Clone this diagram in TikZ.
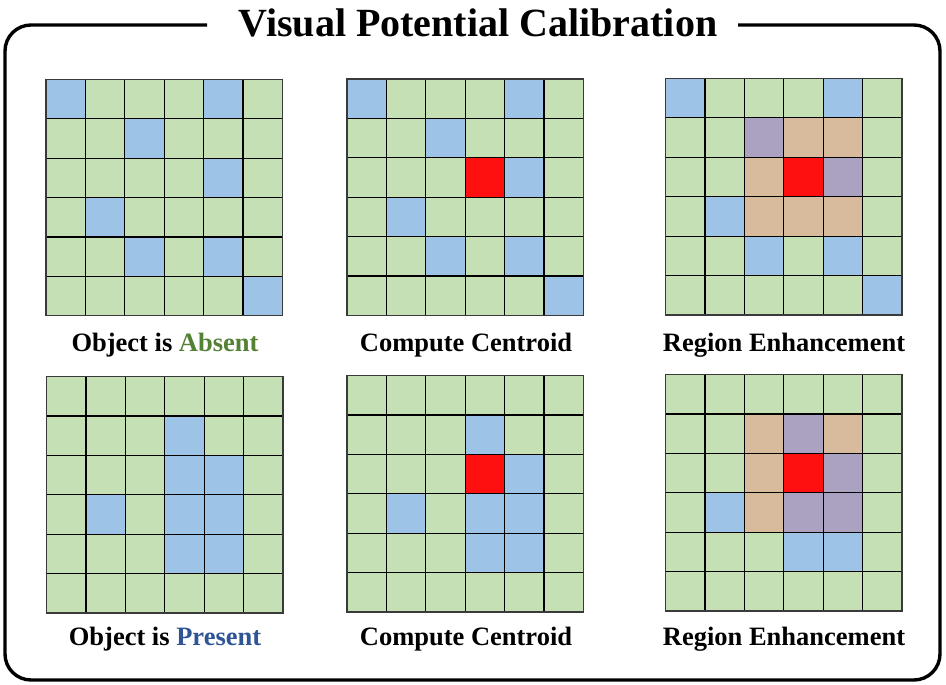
\documentclass[tikz,border=0pt]{standalone}
\usepackage{fontspec}
\setmainfont{Liberation Serif}
\definecolor{cgreen}{HTML}{C5E0B4}
\definecolor{cblue}{HTML}{9DC3E6}
\definecolor{cred}{HTML}{FF1010}
\definecolor{cpurple}{HTML}{ABA1C0}
\definecolor{ctan}{HTML}{D8BA9C}
\definecolor{tgreen}{HTML}{548235}
\definecolor{tblue}{HTML}{2F5597}
\definecolor{borderc}{HTML}{3A3A3A}
\tikzset{
  cellbox/.style={draw=none,minimum size=39.4pt,inner sep=0pt,outer sep=0pt,anchor=north west},
  bluecell/.style={fill=cblue},
  redcell/.style={fill=cred},
  purplecell/.style={fill=cpurple},
  tancell/.style={fill=ctan},
  gridline/.style={draw=black,line width=1.2pt},
  gridborder/.style={draw=borderc,line width=1.5pt},
  framepath/.style={draw=black,line width=3.4pt,rounded corners=26pt},
  caption/.style={anchor=base,inner sep=0pt,font=\fontsize{26.5}{30}\selectfont\bfseries},
  titletext/.style={anchor=base,inner sep=0pt,font=\fontsize{40}{46}\selectfont\bfseries},
}
\newcommand{\cellgrid}[4]{%
  \foreach \r in {0,...,5}{\foreach \c in {0,...,5}{
    \node[cellbox,fill=cgreen] (#1-\r-\c) at ({#2+\c*39.4},{#3+\r*39.4}) {};}}
  \foreach \r/\c/\col in {#4}{
    \node[cellbox,\col] (#1-s-\r-\c) at ({#2+\c*39.4},{#3+\r*39.4}) {};}
  \foreach \i in {1,...,5}{
    \draw[gridline] ({#2+\i*39.4},#3) -- ({#2+\i*39.4},{#3+236.4});
    \draw[gridline] (#2,{#3+\i*39.4}) -- ({#2+236.4},{#3+\i*39.4});}
  \draw[gridborder] (#2,#3) rectangle ({#2+236.4},{#3+236.4});
}
\begin{document}
\begin{tikzpicture}[x=1pt,y=-1pt]
\useasboundingbox (0,0) rectangle (946,685);
% frame
\coordinate (fr) at (738,25);
\coordinate (fl) at (207,25);
\draw[framepath] (fr) -- (940,25) -- (940,680) -- (5,680) -- (5,25) -- (fl);
\node[titletext] (title) at (478,37) {Visual Potential Calibration};
% grids
\cellgrid{ga}{46}{79.3}{0/0/bluecell,0/4/bluecell,1/2/bluecell,2/4/bluecell,3/1/bluecell,4/2/bluecell,4/4/bluecell,5/5/bluecell}
\cellgrid{gb}{347}{79}{0/0/bluecell,0/4/bluecell,1/2/bluecell,2/3/redcell,2/4/bluecell,3/1/bluecell,4/2/bluecell,4/4/bluecell,5/5/bluecell}
\cellgrid{gc}{665.5}{78.5}{0/0/bluecell,0/4/bluecell,1/2/purplecell,1/3/tancell,1/4/tancell,2/2/tancell,2/3/redcell,2/4/purplecell,3/1/bluecell,3/2/tancell,3/3/tancell,3/4/tancell,4/2/bluecell,4/4/bluecell,5/5/bluecell}
\cellgrid{gd}{46.5}{376.5}{1/3/bluecell,2/3/bluecell,2/4/bluecell,3/1/bluecell,3/3/bluecell,3/4/bluecell,4/3/bluecell,4/4/bluecell}
\cellgrid{ge}{347}{375.5}{1/3/bluecell,2/3/redcell,2/4/bluecell,3/1/bluecell,3/3/bluecell,3/4/bluecell,4/3/bluecell,4/4/bluecell}
\cellgrid{gf}{665.5}{374.5}{1/2/tancell,1/3/purplecell,1/4/tancell,2/2/tancell,2/3/redcell,2/4/purplecell,3/1/bluecell,3/2/tancell,3/3/purplecell,3/4/purplecell,4/3/bluecell,4/4/bluecell}
% captions
\node[caption] (la) at (165,351) {Object is \textcolor{tgreen}{Absent}};
\node[caption] (lb) at (466,351) {Compute Centroid};
\node[caption] (lc) at (784,351) {Region Enhancement};
\node[caption] (ld) at (165,645) {Object is \textcolor{tblue}{Present}};
\node[caption] (le) at (466,645) {Compute Centroid};
\node[caption] (lf) at (784,645) {Region Enhancement};
\end{tikzpicture}
\end{document}
